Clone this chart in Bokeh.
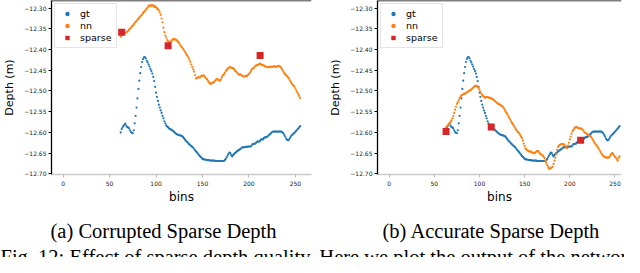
from bokeh.plotting import figure
from bokeh.layouts import column, row
from bokeh.models import (FixedTicker, CustomJSTickFormatter, Legend, LegendItem,
                          Span, Label, Range1d)
from bokeh.embed import file_html
from bokeh.resources import INLINE

# ---------------- data ----------------
x_ticks = [0, 50, 100, 150, 200, 250]
y_ticks = [-12.70, -12.65, -12.60, -12.55, -12.50, -12.45, -12.40, -12.35, -12.30]

gt_bins = list(range(62, 256))
gt_depth = [
    -12.600, -12.592, -12.588, -12.584, -12.581, -12.579, -12.584, -12.587, -12.588, -12.590,
    -12.595, -12.599, -12.601, -12.602, -12.595, -12.578, -12.560, -12.540, -12.518, -12.495,
    -12.475, -12.457, -12.442, -12.430, -12.423, -12.419, -12.418, -12.421, -12.427, -12.431,
    -12.436, -12.441, -12.447, -12.452, -12.458, -12.466, -12.476, -12.490, -12.504, -12.514,
    -12.524, -12.533, -12.540, -12.547, -12.553, -12.560, -12.566, -12.573, -12.578, -12.583,
    -12.586, -12.588, -12.590, -12.592, -12.593, -12.594, -12.596, -12.598, -12.600, -12.602,
    -12.604, -12.605, -12.606, -12.607, -12.607, -12.608, -12.609, -12.611, -12.614, -12.617,
    -12.620, -12.622, -12.624, -12.627, -12.629, -12.631, -12.633, -12.635, -12.637, -12.640,
    -12.643, -12.646, -12.648, -12.651, -12.654, -12.657, -12.659, -12.661, -12.664, -12.665,
    -12.665, -12.666, -12.666, -12.667, -12.667, -12.667, -12.668, -12.668, -12.668, -12.668,
    -12.668, -12.668, -12.669, -12.669, -12.669, -12.669, -12.669, -12.669, -12.669, -12.669,
    -12.669, -12.669, -12.667, -12.664, -12.660, -12.656, -12.652, -12.649, -12.650, -12.655,
    -12.658, -12.655, -12.652, -12.650, -12.648, -12.646, -12.644, -12.643, -12.641, -12.640,
    -12.637, -12.636, -12.636, -12.636, -12.635, -12.635, -12.635, -12.634, -12.634, -12.634,
    -12.634, -12.631, -12.628, -12.628, -12.627, -12.627, -12.624, -12.622, -12.622, -12.622,
    -12.620, -12.617, -12.617, -12.617, -12.614, -12.612, -12.612, -12.611, -12.610, -12.607,
    -12.605, -12.604, -12.601, -12.599, -12.598, -12.598, -12.598, -12.598, -12.598, -12.598,
    -12.598, -12.598, -12.598, -12.598, -12.600, -12.602, -12.606, -12.610, -12.615, -12.618,
    -12.619, -12.618, -12.614, -12.610, -12.607, -12.605, -12.603, -12.601, -12.598, -12.596,
    -12.593, -12.591, -12.588, -12.585,
]

nn_a_bins = list(range(62, 256))
nn_a_depth = [
    -12.369, -12.366, -12.364, -12.362, -12.362, -12.360, -12.358, -12.357, -12.355, -12.352,
    -12.350, -12.347, -12.344, -12.342, -12.339, -12.336, -12.333, -12.331, -12.328, -12.326,
    -12.323, -12.320, -12.318, -12.315, -12.312, -12.309, -12.307, -12.304, -12.301, -12.298,
    -12.295, -12.293, -12.296, -12.292, -12.294, -12.293, -12.297, -12.295, -12.298, -12.300,
    -12.303, -12.305, -12.310, -12.316, -12.325, -12.334, -12.347, -12.358, -12.366, -12.371,
    -12.377, -12.380, -12.381, -12.382, -12.381, -12.378, -12.375, -12.374, -12.376, -12.375,
    -12.377, -12.379, -12.382, -12.385, -12.389, -12.392, -12.395, -12.398, -12.401, -12.405,
    -12.409, -12.413, -12.416, -12.420, -12.425, -12.430, -12.436, -12.442, -12.448, -12.453,
    -12.462, -12.470, -12.469, -12.467, -12.466, -12.468, -12.465, -12.463, -12.464, -12.462,
    -12.464, -12.467, -12.470, -12.472, -12.476, -12.479, -12.481, -12.483, -12.481, -12.480,
    -12.479, -12.477, -12.474, -12.472, -12.471, -12.473, -12.474, -12.475, -12.471, -12.466,
    -12.462, -12.460, -12.456, -12.452, -12.449, -12.447, -12.444, -12.443, -12.442, -12.444,
    -12.445, -12.445, -12.447, -12.451, -12.453, -12.455, -12.458, -12.460, -12.461, -12.460,
    -12.462, -12.464, -12.465, -12.465, -12.464, -12.463, -12.464, -12.461, -12.459, -12.456,
    -12.452, -12.448, -12.446, -12.445, -12.442, -12.439, -12.438, -12.438, -12.436, -12.435,
    -12.434, -12.436, -12.437, -12.438, -12.438, -12.440, -12.441, -12.442, -12.442, -12.443,
    -12.442, -12.441, -12.442, -12.442, -12.441, -12.440, -12.441, -12.442, -12.441, -12.440,
    -12.439, -12.440, -12.442, -12.445, -12.449, -12.453, -12.457, -12.460, -12.462, -12.464,
    -12.467, -12.470, -12.474, -12.478, -12.482, -12.485, -12.487, -12.490, -12.494, -12.499,
    -12.503, -12.507, -12.512, -12.517,
]

nn_b_bins = list(range(63, 256))
nn_b_depth = [
    -12.588, -12.586, -12.583, -12.580, -12.577, -12.574, -12.571, -12.566, -12.560, -12.553,
    -12.545, -12.538, -12.531, -12.527, -12.522, -12.517, -12.513, -12.511, -12.509, -12.508,
    -12.506, -12.507, -12.505, -12.503, -12.502, -12.500, -12.499, -12.498, -12.496, -12.494,
    -12.492, -12.490, -12.488, -12.487, -12.488, -12.490, -12.493, -12.497, -12.502, -12.506,
    -12.509, -12.512, -12.514, -12.516, -12.515, -12.514, -12.515, -12.516, -12.516, -12.517,
    -12.518, -12.519, -12.520, -12.522, -12.524, -12.526, -12.528, -12.530, -12.531, -12.532,
    -12.534, -12.535, -12.537, -12.538, -12.542, -12.546, -12.550, -12.553, -12.557, -12.561,
    -12.565, -12.569, -12.573, -12.577, -12.580, -12.584, -12.588, -12.592, -12.595, -12.598,
    -12.600, -12.602, -12.606, -12.610, -12.614, -12.620, -12.627, -12.633, -12.639, -12.641,
    -12.643, -12.645, -12.646, -12.646, -12.647, -12.648, -12.649, -12.650, -12.650, -12.648,
    -12.646, -12.645, -12.645, -12.648, -12.651, -12.653, -12.654, -12.656, -12.659, -12.662,
    -12.668, -12.674, -12.679, -12.683, -12.687, -12.688, -12.686, -12.685, -12.683, -12.676,
    -12.668, -12.661, -12.652, -12.642, -12.635, -12.632, -12.630, -12.629, -12.628, -12.629,
    -12.628, -12.630, -12.633, -12.636, -12.638, -12.632, -12.625, -12.617, -12.610, -12.603,
    -12.597, -12.594, -12.590, -12.588, -12.587, -12.588, -12.589, -12.590, -12.590, -12.591,
    -12.591, -12.593, -12.596, -12.599, -12.601, -12.602, -12.604, -12.606, -12.607, -12.608,
    -12.609, -12.612, -12.616, -12.620, -12.624, -12.627, -12.630, -12.633, -12.636, -12.639,
    -12.643, -12.647, -12.651, -12.654, -12.657, -12.658, -12.660, -12.661, -12.661, -12.660,
    -12.661, -12.659, -12.655, -12.652, -12.650, -12.652, -12.656, -12.659, -12.661, -12.665,
    -12.668, -12.662, -12.658,
]

sparse_bins = [63, 113, 212]
sparse_a_depth = [-12.358, -12.391, -12.414]
sparse_b_depth = [-12.598, -12.587, -12.619]

caption_a = "(a) Corrupted Sparse Depth"
caption_b = "(b) Accurate Sparse Depth"
fig_caption = "Fig. 12: Effect of sparse depth quality. Here we plot the output of the network\u2019s"

GT_C, NN_C, SP_C = "#1f77b4", "#ff7f0e", "#d62728"
SANS = "DejaVu Sans"
SERIF = "Liberation Serif"


def panel(nn_bins, nn_depth, sp_depth, x0, x1, w, b_left, b_right):
    p = figure(width=w, height=216, output_backend="svg", toolbar_location=None,
               x_range=Range1d(x0, x1), y_range=Range1d(-12.7016, -12.2815),
               min_border_left=b_left, min_border_right=b_right,
               min_border_top=0, min_border_bottom=42)
    p.grid.visible = False
    p.outline_line_color = None
    p.background_fill_color = "white"
    p.border_fill_color = "white"

    r_gt = p.scatter(gt_bins, gt_depth, size=2.2, marker="circle", color=GT_C, line_width=0)
    r_nn = p.scatter(nn_bins, nn_depth, size=2.2, marker="circle", color=NN_C, line_width=0)
    r_sp = p.scatter(sparse_bins, sp_depth, size=7, marker="square", color=SP_C, line_width=0)

    p.add_layout(Span(location=-12.2815, dimension="width", line_color="black", line_width=1.5))

    ya = p.yaxis[0]
    ya.ticker = FixedTicker(ticks=y_ticks)
    ya.formatter = CustomJSTickFormatter(code="return '\u2212' + Math.abs(tick).toFixed(2);")
    ya.axis_line_color = "black"
    ya.axis_line_width = 1.3
    ya.major_tick_line_color = "black"
    ya.major_tick_out = 3
    ya.major_tick_in = 0
    ya.minor_tick_out = 0
    ya.minor_tick_in = 0
    ya.major_label_text_font = SANS
    ya.major_label_text_font_size = "6px"
    ya.major_label_text_color = "#222222"
    ya.major_label_standoff = 2
    ya.axis_label = "Depth (m)"
    ya.axis_label_text_font = SANS
    ya.axis_label_text_font_size = "11px"
    ya.axis_label_text_font_style = "normal"
    ya.axis_label_text_color = "black"
    ya.axis_label_standoff = 5

    xa = p.xaxis[0]
    xa.ticker = FixedTicker(ticks=x_ticks)
    xa.axis_line_color = "#cccccc"
    xa.axis_line_width = 1.3
    xa.major_tick_line_color = "#bbbbbb"
    xa.major_tick_out = 3
    xa.major_tick_in = 0
    xa.minor_tick_out = 0
    xa.minor_tick_in = 0
    xa.major_label_text_font = SANS
    xa.major_label_text_font_size = "6px"
    xa.major_label_text_color = "#222222"
    xa.major_label_standoff = 3
    xa.axis_label = "bins"
    xa.axis_label_text_font = SANS
    xa.axis_label_text_font_size = "12px"
    xa.axis_label_text_font_style = "normal"
    xa.axis_label_text_color = "black"
    xa.axis_label_standoff = 1

    legend = Legend(items=[LegendItem(label="gt", renderers=[r_gt]),
                           LegendItem(label="nn", renderers=[r_nn]),
                           LegendItem(label="sparse", renderers=[r_sp])],
                    location="top_left")
    legend.label_text_font = SANS
    legend.label_text_font_size = "9.5px"
    legend.label_text_color = "black"
    legend.border_line_color = "#cccccc"
    legend.border_line_width = 1
    legend.background_fill_alpha = 0.9
    legend.padding = 4
    legend.spacing = 1
    legend.margin = 3
    legend.glyph_width = 16
    legend.glyph_height = 11
    legend.label_height = 11
    legend.label_standoff = 5
    p.add_layout(legend)
    return p


pa = panel(nn_a_bins, nn_a_depth, sparse_a_depth, -12.5, 267.3, 316, 50, 5)
pb = panel(nn_b_bins, nn_b_depth, sparse_b_depth, -12.9, 257.2, 308, 61, 3)

pc = figure(width=624, height=41, output_backend="svg", toolbar_location=None,
            x_axis_type=None, y_axis_type=None, min_border=0,
            x_range=Range1d(0, 1), y_range=Range1d(0, 1))
pc.grid.visible = False
pc.outline_line_color = None
for txt, xs in ((caption_a, 50), (caption_b, 382)):
    pc.add_layout(Label(x=xs, y=27, x_units="screen", y_units="screen", text=txt,
                        text_font=SERIF, text_font_size="20.5px", text_baseline="middle",
                        text_color="black"))
pc.add_layout(Label(x=0, y=12, x_units="screen", y_units="screen", text=fig_caption,
                    text_font=SERIF, text_font_size="20.5px", text_baseline="top",
                    text_color="black"))

layout = column(row(pa, pb, spacing=0), pc, spacing=0)
open("out.html", "w").write(file_html(layout, INLINE))
